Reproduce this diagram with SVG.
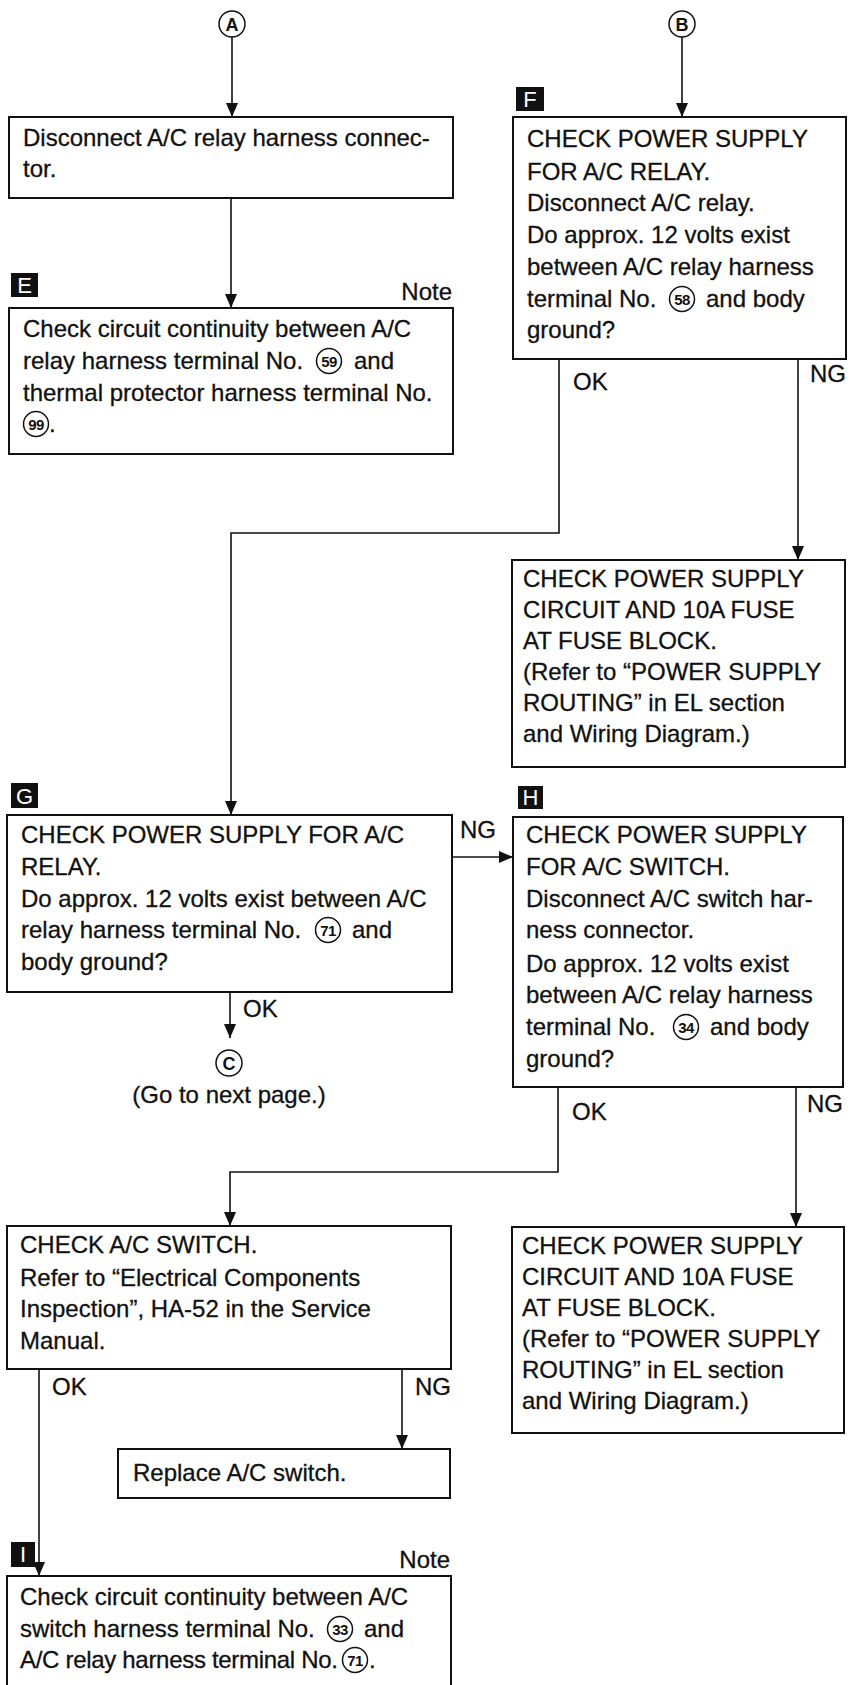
<svg xmlns="http://www.w3.org/2000/svg" width="855" height="1685" viewBox="0 0 855 1685">
<style>
.bg{fill:#fff}
.box{fill:#fff;stroke:#111;stroke-width:2}
.t{font-family:"Liberation Sans",Arial,sans-serif;font-size:24px;fill:#111;stroke:#111;stroke-width:0.3}
.lbl{font-family:"Liberation Sans",Arial,sans-serif;font-size:24px;fill:#111;stroke:#111;stroke-width:0.3}
.sq{fill:#111}
.sqt{font-family:"Liberation Sans",Arial,sans-serif;font-size:22px;fill:#fff;text-anchor:middle}
.cn{fill:none;stroke:#111;stroke-width:1.6}
.circ{fill:#fff;stroke:#111;stroke-width:1.5}
.num{font-family:"Liberation Sans",Arial,sans-serif;font-size:15px;font-weight:bold;fill:#111;text-anchor:middle;letter-spacing:-0.5px}
.big{font-family:"Liberation Sans",Arial,sans-serif;font-size:18px;font-weight:bold;fill:#111;text-anchor:middle}
</style>
<defs>
<marker id="ah" markerUnits="userSpaceOnUse" markerWidth="14" markerHeight="12" refX="14" refY="6" orient="auto">
<path d="M0,0 L14,6 L0,12 z" fill="#111"/>
</marker>
</defs>
<rect class="bg" x="0" y="0" width="855" height="1685"/>

<g id="connectors">
<line class="cn" x1="232" y1="37" x2="232" y2="117" marker-end="url(#ah)"/>
<line class="cn" x1="231" y1="198" x2="231" y2="308" marker-end="url(#ah)"/>
<line class="cn" x1="682" y1="37" x2="682" y2="117" marker-end="url(#ah)"/>
<polyline class="cn" points="559,359 559,533 231,533 231,815" marker-end="url(#ah)"/>
<line class="cn" x1="798" y1="359" x2="798" y2="560" marker-end="url(#ah)"/>
<line class="cn" x1="452" y1="857" x2="513" y2="857" marker-end="url(#ah)"/>
<line class="cn" x1="230" y1="992" x2="230" y2="1038" marker-end="url(#ah)"/>
<polyline class="cn" points="558,1087 558,1172 230,1172 230,1226" marker-end="url(#ah)"/>
<line class="cn" x1="796" y1="1087" x2="796" y2="1227" marker-end="url(#ah)"/>
<line class="cn" x1="39" y1="1369" x2="39" y2="1576" marker-end="url(#ah)"/>
<line class="cn" x1="402" y1="1369" x2="402" y2="1449" marker-end="url(#ah)"/>
<text class="lbl" x="573" y="390">OK</text>
<text class="lbl" x="846" y="382" text-anchor="end">NG</text>
<text class="lbl" x="460" y="838">NG</text>
<text class="lbl" x="243" y="1017">OK</text>
<text class="lbl" x="572" y="1120">OK</text>
<text class="lbl" x="843" y="1112" text-anchor="end">NG</text>
<text class="lbl" x="52" y="1395">OK</text>
<text class="lbl" x="415" y="1395">NG</text>
</g>

<g id="conn-A">
<circle class="circ" cx="232" cy="24" r="13"/>
<text class="big" x="232" y="30.5">A</text>
</g>
<g id="conn-B">
<circle class="circ" cx="682" cy="24" r="13"/>
<text class="big" x="682" y="30.5">B</text>
</g>
<g id="conn-C">
<circle class="circ" cx="229" cy="1063" r="13"/>
<text class="big" x="229" y="1069.5">C</text>
<text class="t" x="229" y="1103" text-anchor="middle">(Go to next page.)</text>
</g>

<g id="n-disconnect">
<rect class="box" x="9" y="117" width="444" height="81"/>
<text class="t" x="23" y="146">Disconnect A/C relay harness connec-</text>
<text class="t" x="23" y="177">tor.</text>
</g>

<g id="n-E">
<rect class="sq" x="11" y="273" width="27" height="24"/>
<text class="sqt" x="24.5" y="293">E</text>
<text class="t" x="452" y="300" text-anchor="end">Note</text>
<rect class="box" x="9" y="308" width="444" height="146"/>
<text class="t" x="23" y="337">Check circuit continuity between A/C</text>
<text class="t" x="23" y="369">relay harness terminal No.</text>
<circle class="circ" cx="329" cy="361" r="12.5"/>
<text class="num" x="329" y="366.5">59</text>
<text class="t" x="354" y="369">and</text>
<text class="t" x="23" y="401">thermal protector harness terminal No.</text>
<circle class="circ" cx="36" cy="424" r="12.5"/>
<text class="num" x="36" y="429.5">99</text>
<text class="t" x="49" y="432">.</text>
</g>

<g id="n-F">
<rect class="sq" x="516" y="87" width="28" height="24"/>
<text class="sqt" x="530" y="107">F</text>
<rect class="box" x="513" y="117" width="333" height="242"/>
<text class="t" x="527" y="147">CHECK POWER SUPPLY</text>
<text class="t" x="527" y="180">FOR A/C RELAY.</text>
<text class="t" x="527" y="211">Disconnect A/C relay.</text>
<text class="t" x="527" y="243">Do approx. 12 volts exist</text>
<text class="t" x="527" y="275">between A/C relay harness</text>
<text class="t" x="527" y="307">terminal No.</text>
<circle class="circ" cx="682" cy="299" r="12.5"/>
<text class="num" x="682" y="304.5">58</text>
<text class="t" x="706" y="307">and body</text>
<text class="t" x="527" y="338">ground?</text>
</g>

<g id="n-F-NG">
<rect class="box" x="512" y="560" width="333" height="207"/>
<text class="t" x="523" y="587">CHECK POWER SUPPLY</text>
<text class="t" x="523" y="618">CIRCUIT AND 10A FUSE</text>
<text class="t" x="523" y="649">AT FUSE BLOCK.</text>
<text class="t" x="523" y="680">(Refer to “POWER SUPPLY</text>
<text class="t" x="523" y="711">ROUTING” in EL section</text>
<text class="t" x="523" y="742">and Wiring Diagram.)</text>
</g>

<g id="n-G">
<rect class="sq" x="11" y="783" width="27" height="25"/>
<text class="sqt" x="24.5" y="803.5">G</text>
<rect class="box" x="7" y="815" width="445" height="177"/>
<text class="t" x="21" y="843">CHECK POWER SUPPLY FOR A/C</text>
<text class="t" x="21" y="875">RELAY.</text>
<text class="t" x="21" y="907">Do approx. 12 volts exist between A/C</text>
<text class="t" x="21" y="938">relay harness terminal No.</text>
<circle class="circ" cx="328" cy="930" r="12.5"/>
<text class="num" x="328" y="935.5">71</text>
<text class="t" x="352" y="938">and</text>
<text class="t" x="21" y="970">body ground?</text>
</g>

<g id="n-H">
<rect class="sq" x="518" y="786" width="25" height="23"/>
<text class="sqt" x="530.5" y="805">H</text>
<rect class="box" x="513" y="817" width="330" height="270"/>
<text class="t" x="526" y="843">CHECK POWER SUPPLY</text>
<text class="t" x="526" y="875">FOR A/C SWITCH.</text>
<text class="t" x="526" y="907">Disconnect A/C switch har-</text>
<text class="t" x="526" y="938">ness connector.</text>
<text class="t" x="526" y="972">Do approx. 12 volts exist</text>
<text class="t" x="526" y="1003">between A/C relay harness</text>
<text class="t" x="526" y="1035">terminal No.</text>
<circle class="circ" cx="686" cy="1027" r="12.5"/>
<text class="num" x="686" y="1032.5">34</text>
<text class="t" x="710" y="1035">and body</text>
<text class="t" x="526" y="1067">ground?</text>
</g>

<g id="n-switch">
<rect class="box" x="7" y="1226" width="444" height="143"/>
<text class="t" x="20" y="1253">CHECK A/C SWITCH.</text>
<text class="t" x="20" y="1286">Refer to “Electrical Components</text>
<text class="t" x="20" y="1317">Inspection”, HA-52 in the Service</text>
<text class="t" x="20" y="1349">Manual.</text>
</g>

<g id="n-H-NG">
<rect class="box" x="512" y="1227" width="332" height="206"/>
<text class="t" x="522" y="1254">CHECK POWER SUPPLY</text>
<text class="t" x="522" y="1285">CIRCUIT AND 10A FUSE</text>
<text class="t" x="522" y="1316">AT FUSE BLOCK.</text>
<text class="t" x="522" y="1347">(Refer to “POWER SUPPLY</text>
<text class="t" x="522" y="1378">ROUTING” in EL section</text>
<text class="t" x="522" y="1409">and Wiring Diagram.)</text>
</g>

<g id="n-replace">
<rect class="box" x="118" y="1449" width="332" height="49"/>
<text class="t" x="133" y="1481">Replace A/C switch.</text>
</g>

<g id="n-I">
<rect class="sq" x="11" y="1542" width="24" height="25"/>
<text class="sqt" x="23" y="1562">I</text>
<text class="t" x="450" y="1568" text-anchor="end">Note</text>
<rect class="box" x="7" y="1576" width="444" height="130"/>
<text class="t" x="20" y="1605">Check circuit continuity between A/C</text>
<text class="t" x="20" y="1637">switch harness terminal No.</text>
<circle class="circ" cx="340" cy="1629" r="12.5"/>
<text class="num" x="340" y="1634.5">33</text>
<text class="t" x="364" y="1637">and</text>
<text class="t" x="20" y="1668" textLength="318" lengthAdjust="spacing">A/C relay harness terminal No.</text>
<circle class="circ" cx="355" cy="1660" r="12.5"/>
<text class="num" x="355" y="1665.5">71</text>
<text class="t" x="369" y="1668">.</text>
</g>
</svg>
